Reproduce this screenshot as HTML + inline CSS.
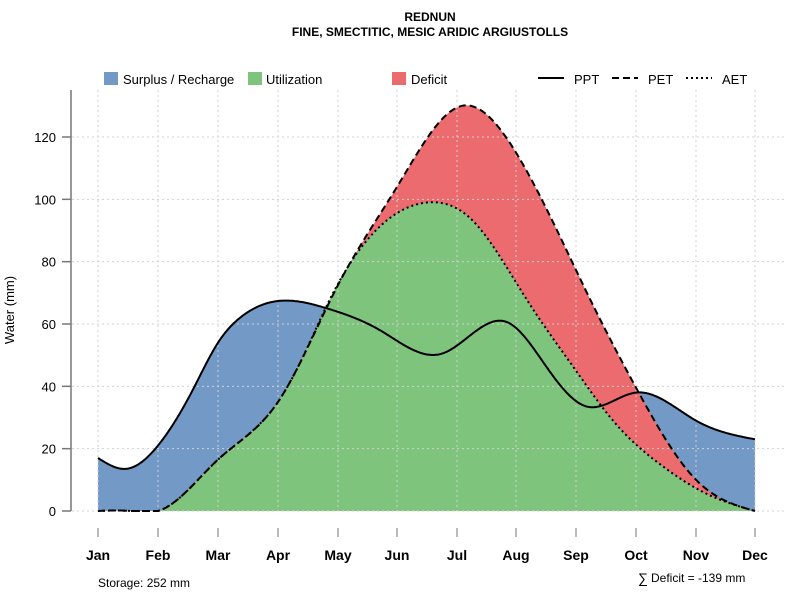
<!DOCTYPE html>
<html><head><meta charset="utf-8"><style>
html,body{margin:0;padding:0;background:#fff;}
svg{display:block;font-family:"Liberation Sans",sans-serif;}
</style></head><body>
<svg id="s" width="800" height="600" xmlns="http://www.w3.org/2000/svg">
<text x="430" y="21" font-size="12" font-weight="bold" text-anchor="middle">REDNUN</text>
<text x="430" y="36" font-size="12" font-weight="bold" text-anchor="middle">FINE, SMECTITIC, MESIC ARIDIC ARGIUSTOLLS</text>
<g id="fills"></g>
<g id="grid" stroke="#d0d0d0" stroke-dasharray="2,3" stroke-width="1"></g>
<g id="lines" fill="none" stroke="#000"></g>
<line x1="71" y1="90" x2="71" y2="511" stroke="#777" stroke-width="1.5"/>
<g id="axes" font-size="13"></g>
<g font-size="13">
<rect x="104" y="72" width="14" height="13" fill="#7399c6"/><text x="123" y="84">Surplus / Recharge</text>
<rect x="248" y="72" width="14" height="13" fill="#7fc47d"/><text x="266" y="84">Utilization</text>
<rect x="392" y="72" width="14" height="13" fill="#ec6b6e"/><text x="411" y="84">Deficit</text>
<line x1="538" y1="78" x2="564" y2="78" stroke="#000" stroke-width="2"/><text x="574" y="84">PPT</text>
<line x1="612" y1="78" x2="638" y2="78" stroke="#000" stroke-width="2" stroke-dasharray="7,4"/><text x="648" y="84">PET</text>
<line x1="686" y1="78" x2="712" y2="78" stroke="#000" stroke-width="2" stroke-dasharray="2,3"/><text x="722" y="84">AET</text>
</g>
<text x="14" y="310" font-size="13" transform="rotate(-90 14 310)" text-anchor="middle">Water (mm)</text>
<text x="98" y="587" font-size="12">Storage: 252 mm</text>
<text x="638" y="583" font-size="14">∑</text>
<text x="651" y="582" font-size="12">Deficit = -139 mm</text>
</svg>
<script>
function Y(v){return 511-3.1167*v;}
var X=[98,158,218,278,338,397,457,516,576,636,696,755];
function nspline(pts){
  var n=pts.length,x=pts.map(p=>p[0]),y=pts.map(p=>p[1]),h=[],al=[],l=[1],mu=[0],z=[0],c=new Array(n).fill(0),b=[],d=[];
  for(var i=0;i<n-1;i++)h[i]=x[i+1]-x[i];
  for(i=1;i<n-1;i++)al[i]=3/h[i]*(y[i+1]-y[i])-3/h[i-1]*(y[i]-y[i-1]);
  for(i=1;i<n-1;i++){l[i]=2*(x[i+1]-x[i-1])-h[i-1]*mu[i-1];mu[i]=h[i]/l[i];z[i]=(al[i]-h[i-1]*z[i-1])/l[i];}
  l[n-1]=1;z[n-1]=0;
  for(var j=n-2;j>=0;j--){c[j]=z[j]-mu[j]*c[j+1];b[j]=(y[j+1]-y[j])/h[j]-h[j]*(c[j+1]+2*c[j])/3;d[j]=(c[j+1]-c[j])/(3*h[j]);}
  var out=[];
  for(var xx=x[0];xx<=x[n-1]+0.01;xx+=1){var k=0;while(k<n-2&&xx>x[k+1])k++;var dx=xx-x[k];var v=y[k]+b[k]*dx+c[k]*dx*dx+d[k]*dx*dx*dx;out.push([xx,Y(Math.max(0,v))]);}
  return out;
}
var ppt=nspline([[98,17],[125,13.5],[158,21],[193,39],[218,54],[240,62],[283,67.5],[327,65],[380,58],[442,50.5],[507,60.6],[547,46],[587,33.5],[636,38],[696,29],[755,23]]);
var pet=nspline([[98,0],[130,0],[158,0],[218,16.5],[278,35],[300,47.5],[338,72.5],[397,104],[462,130],[516,115],[590,68],[637,39],[696,10],[755,0]]);
var aet=nspline([[98,0],[130,0],[158,0],[218,16.5],[278,35],[300,47.5],[330,68],[370,88],[428,99],[470,94],[527,67.7],[576,45],[613,29],[660,15],[710,5],[755,0]]);
function d(pts){return "M"+pts.map(p=>p[0].toFixed(1)+","+p[1].toFixed(1)).join("L");}
function area(pts){return d(pts)+"L755,511L98,511Z";}
document.getElementById("fills").innerHTML='<path d="'+area(ppt)+'" fill="#7399c6"/><path d="'+area(pet)+'" fill="#ec6b6e"/><path d="'+area(aet)+'" fill="#7fc47d"/>';
var gs="";
X.forEach(x=>gs+='<line x1="'+x+'" y1="90" x2="'+x+'" y2="511"/>');
for(var v=0;v<=120;v+=20)gs+='<line x1="72" y1="'+Y(v)+'" x2="785" y2="'+Y(v)+'"/>';
document.getElementById("grid").innerHTML=gs;
document.getElementById("lines").innerHTML='<path d="'+d(pet)+'" stroke-width="2" stroke-dasharray="7,4"/><path d="'+d(aet)+'" stroke-width="2" stroke-dasharray="2,3"/><path d="'+d(ppt)+'" stroke-width="2"/>';
var a="",m=["Jan","Feb","Mar","Apr","May","Jun","Jul","Aug","Sep","Oct","Nov","Dec"];
for(var v=0;v<=120;v+=20){a+='<line x1="62" y1="'+Y(v)+'" x2="71" y2="'+Y(v)+'" stroke="#777" stroke-width="1.5"/><text x="56" y="'+(Y(v)+5)+'" text-anchor="end">'+v+'</text>';}
X.forEach((x,i)=>{a+='<line x1="'+x+'" y1="528" x2="'+x+'" y2="537" stroke="#777"/><text x="'+x+'" y="560" text-anchor="middle" font-weight="bold" font-size="14">'+m[i]+'</text>';});
document.getElementById("axes").innerHTML=a;
</script>
</body></html>
